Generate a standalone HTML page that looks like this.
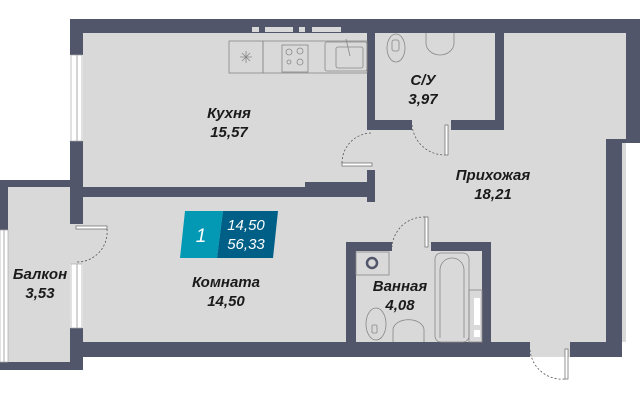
<!DOCTYPE html>
<html><head><meta charset="utf-8"><style>
html,body{margin:0;padding:0;background:#fff;width:640px;height:400px;overflow:hidden}
text{font-family:"Liberation Sans",sans-serif;font-style:italic;font-weight:bold;fill:#1a1a1a;font-size:15px;text-anchor:middle}
</style></head><body>
<svg width="640" height="400" viewBox="0 0 640 400" xmlns="http://www.w3.org/2000/svg">
<rect x="83" y="33" width="543" height="309" fill="#d9d9d9"/>
<rect x="606" y="33" width="20" height="110" fill="#d9d9d9"/>
<rect x="8" y="187" width="62" height="175" fill="#d9d9d9"/>
<rect x="70" y="224" width="13" height="40" fill="#d9d9d9"/>
<rect x="530" y="342" width="40" height="15" fill="#d9d9d9"/>
<g fill="#52566a">
<rect x="70" y="19" width="570" height="14"/>
<rect x="626" y="19" width="14" height="124"/>
<rect x="606" y="139" width="20" height="4"/>
<rect x="606" y="139" width="16" height="218"/>
<rect x="70" y="342" width="460" height="15"/>
<rect x="570" y="342" width="52" height="15"/>
<rect x="70" y="19" width="13" height="36"/>
<rect x="70" y="141" width="13" height="83"/>
<rect x="70" y="328" width="13" height="29"/>
<rect x="0" y="180" width="70" height="7"/>
<rect x="0" y="180" width="8" height="50"/>
<rect x="0" y="362" width="83" height="8"/>
<rect x="70" y="342" width="13" height="28"/>
<rect x="83" y="187" width="292" height="10"/>
<rect x="305" y="182" width="70" height="15"/>
<rect x="367" y="170" width="8" height="32"/>
<rect x="367" y="19" width="8" height="111"/>
<rect x="367" y="120" width="45" height="10"/>
<rect x="451" y="120" width="53" height="10"/>
<rect x="495" y="19" width="9" height="111"/>
<rect x="346" y="242" width="46" height="9"/>
<rect x="431" y="242" width="60" height="9"/>
<rect x="346" y="242" width="10" height="100"/>
<rect x="482" y="242" width="9" height="100"/>
</g>
<g fill="#d9d9d9"><rect x="252" y="27" width="7" height="5"/><rect x="265" y="27" width="28" height="5"/><rect x="299" y="27" width="6" height="5"/><rect x="312" y="27" width="29" height="5"/></g>
<rect x="71" y="55" width="11" height="86" fill="#fff" stroke="#aaa" stroke-width="0.7"/>
<line x1="77" y1="55" x2="77" y2="141" stroke="#aaa"/>
<rect x="71" y="264" width="11" height="64" fill="#fff" stroke="#aaa" stroke-width="0.7"/>
<line x1="77" y1="264" x2="77" y2="328" stroke="#aaa"/>
<rect x="0" y="230" width="8" height="132" fill="#fff" stroke="#aaa" stroke-width="0.7"/>
<line x1="4" y1="230" x2="4" y2="362" stroke="#aaa"/>
<g fill="none" stroke="#888" stroke-width="0.8">
<rect x="229" y="41" width="34" height="32"/>
<rect x="263" y="41" width="104" height="32"/>
<rect x="282" y="45" width="26" height="27"/>
<circle cx="289" cy="52" r="3"/><circle cx="300" cy="51" r="3"/><circle cx="289" cy="62" r="2"/><circle cx="300" cy="62" r="3"/>
<rect x="325" y="42" width="42" height="29" rx="2"/>
<rect x="336" y="47" width="27" height="21" rx="2"/>
<line x1="346" y1="39" x2="350" y2="56"/>
<path d="M240 57h12M246 51v12M242 53l8 8M250 53l-8 8"/>
<ellipse cx="396" cy="48" rx="9" ry="14"/>
<rect x="392" y="40" width="7" height="11" rx="2"/>
<path d="M426 33v10a14 12 0 0 0 28 0v-10"/>
<rect x="356" y="252" width="33" height="23"/>
<circle cx="372" cy="263" r="5" stroke="#52566a" stroke-width="2.5"/>
<rect x="435" y="253" width="34" height="89" rx="6"/>
<path d="M440 338V270a12 12 0 0 1 24 0v68"/>
<rect x="469" y="290" width="13" height="52"/>
<ellipse cx="376" cy="324" rx="10" ry="16"/>
<rect x="372" y="325" width="5" height="8" rx="1"/>
<path d="M393 342v-12a15 10 0 0 1 31 0v12"/>
</g>
<rect x="474" y="298" width="6" height="27" fill="#fff"/><rect x="474" y="330" width="6" height="7" fill="#fff"/>
<g fill="#fff" stroke="#666" stroke-width="0.7">
<rect x="76" y="226" width="31" height="3"/>
<rect x="342" y="163" width="30" height="3"/>
<rect x="445" y="125" width="3" height="30"/>
<rect x="425" y="217" width="3" height="30"/>
<rect x="565" y="349" width="3" height="30"/>
</g>
<g fill="none" stroke="#555" stroke-width="0.8" stroke-dasharray="2,2">
<path d="M107 229A30 30 0 0 1 77 262"/>
<path d="M342 163A30 30 0 0 1 371 133"/>
<path d="M412 125A33 33 0 0 0 445 155"/>
<path d="M425 217A32 32 0 0 0 392 247"/>
<path d="M530 350A32 32 0 0 0 565 379"/>
</g>
<polygon points="185,211 223,211 217,258 180,258" fill="#0399b4"/>
<polygon points="223,211 278,211 273,258 217,258" fill="#005f86"/>
<text x="201" y="242" style="fill:#fff;font-weight:normal;font-size:19px">1</text>
<text x="246" y="230" style="fill:#fff;font-weight:normal;font-size:15px">14,50</text>
<text x="246" y="249" style="fill:#fff;font-weight:normal;font-size:15px">56,33</text>
<text x="229" y="118">Кухня</text><text x="229" y="137">15,57</text>
<text x="423" y="85">С/У</text><text x="423" y="104">3,97</text>
<text x="493" y="180">Прихожая</text><text x="493" y="199">18,21</text>
<text x="226" y="287">Комната</text><text x="226" y="306">14,50</text>
<text x="40" y="279">Балкон</text><text x="40" y="298">3,53</text>
<text x="400" y="291">Ванная</text><text x="400" y="310">4,08</text>
</svg>
</body></html>
